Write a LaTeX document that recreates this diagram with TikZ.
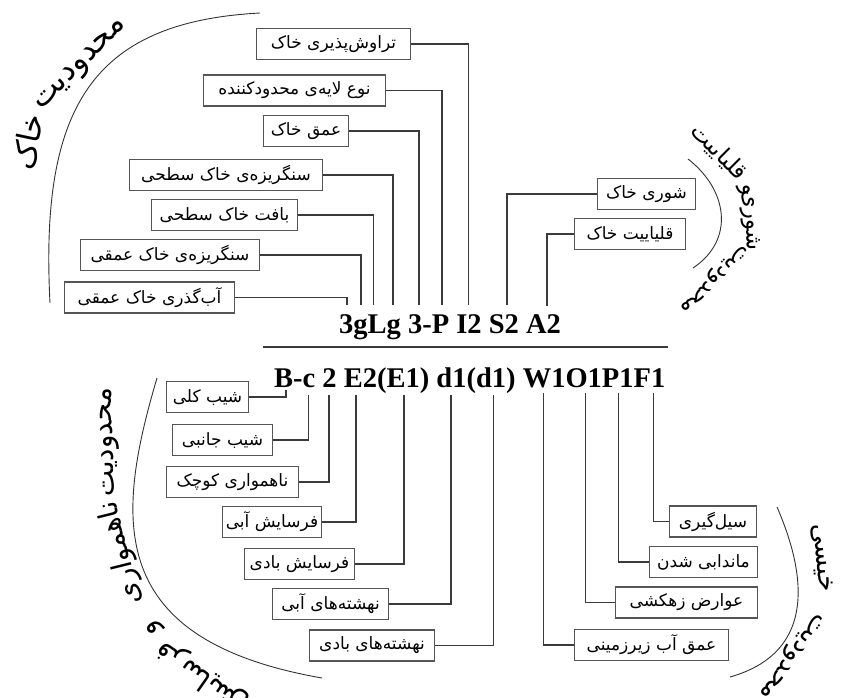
\documentclass[tikz,border=0pt]{standalone}
\usepackage{fontspec}
\setmainfont{Liberation Serif}
\newfontfamily\arabicfont[Script=Arabic]{DejaVu Sans}
\TeXXeTstate=1
\newcommand\fa[1]{{\arabicfont\beginR #1\endR}}
\definecolor{boxgray}{HTML}{555555}
\definecolor{linegray}{HTML}{3A3A3A}
\definecolor{arcgray}{HTML}{333333}
\tikzset{
  fabox/.style={draw=boxgray, line width=1.3pt, minimum height=31pt, inner sep=0pt,
    font=\arabicfont\fontsize{17}{19}\selectfont},
  conn/.style={draw=linegray, line width=1.6pt},
  arcline/.style={draw=arcgray, line width=0.9pt},
  code/.style={inner sep=0pt, anchor=base west, font=\bfseries\fontsize{28.5}{30}\selectfont},
  bigA/.style={inner sep=0pt, font=\arabicfont\fontsize{31}{33}\selectfont},
  bigB/.style={inner sep=0pt, font=\arabicfont\fontsize{23}{25}\selectfont},
  bigC/.style={inner sep=0pt, font=\arabicfont\fontsize{28}{30}\selectfont},
  bigD/.style={inner sep=0pt, font=\arabicfont\fontsize{26}{28}\selectfont}
}
\begin{document}
\begin{tikzpicture}[x=1pt,y=-1pt]
\useasboundingbox (0,0) rectangle (843,697);
\clip (0,0) rectangle (843,697);
% code lines
\node[code] (codeTop) at (339,333) {3gLg 3-P I2 S2 A2};
\node[code] (codeBot) at (274,387) {B-c 2 E2(E1) d1(d1) W1O1P1F1};
\coordinate (sepL) at (263,347);
\coordinate (sepR) at (668,347);
\draw[conn] (sepL) -- (sepR);
% top boxes
\node[fabox, minimum width=154pt] (tar) at (333.5,44) {\fa{تراوش‌پذیری خاک}};
\node[fabox, minimum width=182pt] (noe) at (294.5,90.5) {\fa{نوع لایه‌ی محدودکننده}};
\node[fabox, minimum width=85pt] (omg) at (306,131) {\fa{عمق خاک}};
\node[fabox, minimum width=193pt] (sngS) at (226,175) {\fa{سنگریزه‌ی خاک سطحی}};
\node[fabox, minimum width=146pt] (baft) at (224.5,215) {\fa{بافت خاک سطحی}};
\node[fabox, minimum width=179pt] (sngO) at (170,255) {\fa{سنگریزه‌ی خاک عمقی}};
\node[fabox, minimum width=170pt] (abg) at (149.5,297.5) {\fa{آب‌گذری خاک عمقی}};
\node[fabox, minimum width=98pt] (shori) at (646.5,194) {\fa{شوری خاک}};
\node[fabox, minimum width=111pt] (qal) at (630,234) {\fa{قلیاییت خاک}};
% top ends
\coordinate (eAbg) at (346.7,305);
\coordinate (eSngO) at (360.7,305);
\coordinate (eBaft) at (373.3,305);
\coordinate (eSngS) at (392.7,305);
\coordinate (eOmg) at (419,305);
\coordinate (eNoe) at (441.7,305);
\coordinate (eTar) at (468.3,305);
\coordinate (eShori) at (506.7,305);
\coordinate (eQal) at (546.7,306);
\draw[conn] (abg.east) -| (eAbg);
\draw[conn] (sngO.east) -| (eSngO);
\draw[conn] (baft.east) -| (eBaft);
\draw[conn] (sngS.east) -| (eSngS);
\draw[conn] (omg.east) -| (eOmg);
\draw[conn] (noe.east) -| (eNoe);
\draw[conn] (tar.east) -| (eTar);
\draw[conn] (shori.west) -| (eShori);
\draw[conn] (qal.west) -| (eQal);
% bottom boxes
\node[fabox, minimum width=82pt] (shK) at (207.5,397) {\fa{شیب کلی}};
\node[fabox, minimum width=100pt] (shJ) at (222.5,440) {\fa{شیب جانبی}};
\node[fabox, minimum width=132pt] (nah) at (232.5,482) {\fa{ناهمواری کوچک}};
\node[fabox, minimum width=99pt] (frA) at (272,522) {\fa{فرسایش آبی}};
\node[fabox, minimum width=110pt] (frB) at (299.5,564) {\fa{فرسایش بادی}};
\node[fabox, minimum width=116pt] (nhA) at (330.5,604) {\fa{نهشته‌های آبی}};
\node[fabox, minimum width=125pt] (nhB) at (372,645.5) {\fa{نهشته‌های بادی}};
\node[fabox, minimum width=87pt] (sil) at (713,521.5) {\fa{سیل‌گیری}};
\node[fabox, minimum width=108pt] (man) at (703.5,562) {\fa{ماندابی شدن}};
\node[fabox, minimum width=142pt] (avz) at (686.5,602.5) {\fa{عوارض زهکشی}};
\node[fabox, minimum width=154pt] (omA) at (651.5,645) {\fa{عمق آب زیرزمینی}};
% bottom ends
\coordinate (eShK) at (286,390);
\coordinate (eShJ) at (308.3,395);
\coordinate (eNah) at (329,395);
\coordinate (eFrA) at (355.7,395);
\coordinate (eFrB) at (404,395);
\coordinate (eNhA) at (450.7,395);
\coordinate (eNhB) at (493.3,395);
\coordinate (eOmA) at (543.3,393);
\coordinate (eAvz) at (585.3,393);
\coordinate (eMan) at (618.3,393);
\coordinate (eSil) at (653.3,393);
\draw[conn] (shK.east) -| (eShK);
\draw[conn] (shJ.east) -| (eShJ);
\draw[conn] (nah.east) -| (eNah);
\draw[conn] (frA.east) -| (eFrA);
\draw[conn] (frB.east) -| (eFrB);
\draw[conn] (nhA.east) -| (eNhA);
\draw[conn] (nhB.east) -| (eNhB);
\draw[conn] (omA.west) -| (eOmA);
\draw[conn] (avz.west) -| (eAvz);
\draw[conn] (man.west) -| (eMan);
\draw[conn] (sil.west) -| (eSil);
% arcs
\draw[arcline] (260,13) .. controls (90,22) and (40,110) .. (50,303);
\draw[arcline] (688,159) .. controls (728,190) and (735,240) .. (693,268);
\draw[arcline] (157,378) .. controls (115,520) and (105,640) .. (322,678);
\draw[arcline] (777,507) .. controls (800,560) and (825,650) .. (730,677);
% curved labels
\node[bigA, rotate=45] (tl1) at (82,66) {\fa{محدودیت}};
\node[bigA, rotate=78] (tl2) at (28,142) {\fa{خاک}};
\node[bigB, rotate=-45] (tr1) at (719,152) {\fa{قلیاییت}};
\node[bigB, rotate=-72] (tr2) at (744,191) {\fa{و}};
\node[bigB, rotate=-87] (tr3) at (750,220) {\fa{شوری}};
\node[bigB, rotate=-135] (tr4) at (713,278) {\fa{محدودیت}};
\node[bigC, rotate=92] (bl1) at (110,442) {\fa{محدودیت}};
\node[bigC, rotate=104] (bl2) at (121,553) {\fa{ناهمواری}};
\node[bigC, rotate=128] (bl3) at (155,627) {\fa{و}};
\node[bigC, rotate=145] (bl4) at (202,677) {\fa{فرسایش}};
\node[bigD, rotate=-85] (br1) at (822,558) {\fa{خیسی}};
\node[bigD, rotate=-125] (br2) at (790,655) {\fa{محدودیت}};
\end{tikzpicture}
\end{document}
